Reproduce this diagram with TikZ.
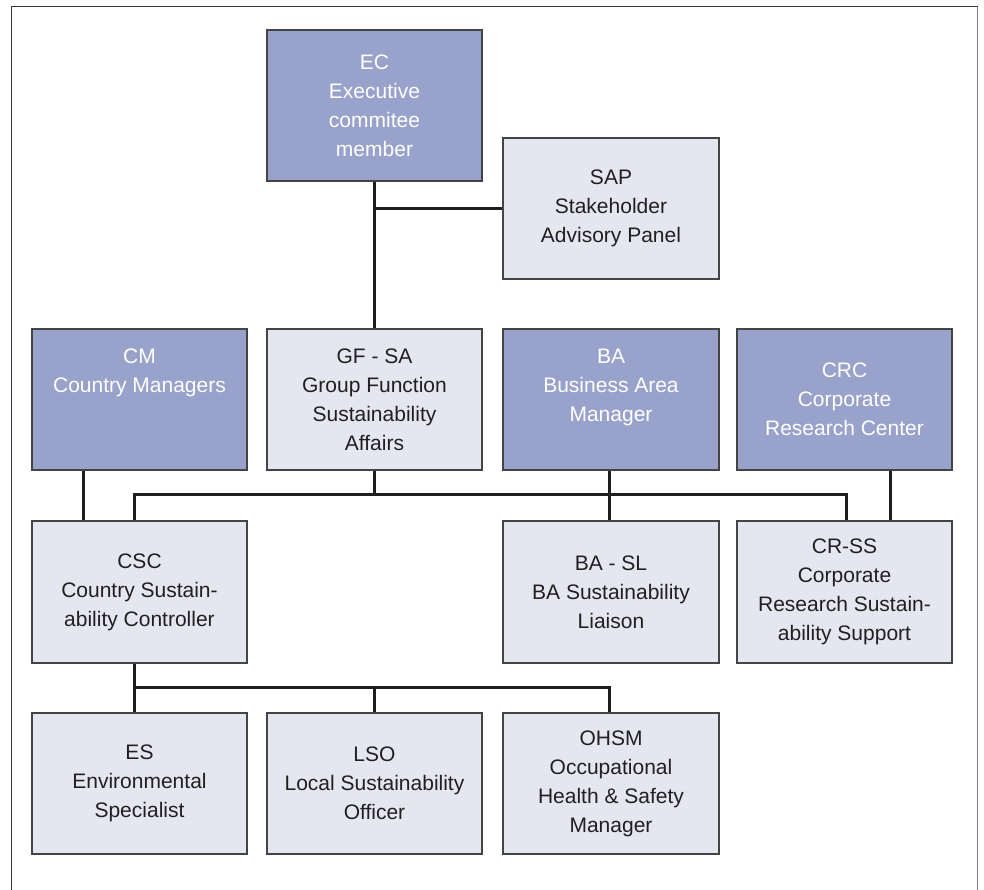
\documentclass[tikz,border=0pt]{standalone}
\usepackage{fontspec}
\setmainfont{Liberation Sans}
\definecolor{boxblue}{HTML}{98A2CB}
\definecolor{boxlight}{HTML}{E4E6F0}
\definecolor{boxline}{HTML}{444444}
\definecolor{textdark}{HTML}{231F20}
\definecolor{connline}{HTML}{1E1E1E}
\tikzset{
  unit/.style={draw=boxline, line width=1.2pt, minimum width=215pt, minimum height=141pt,
    align=center, inner sep=0pt, font=\fontsize{21}{29}\selectfont},
  lead/.style={unit, fill=boxblue, text=white},
  staff/.style={unit, fill=boxlight, text=textdark},
  conn/.style={draw=connline, line width=2.6pt},
  frame/.style={draw=#1, line width=1.3pt},
}
\begin{document}
\begin{tikzpicture}[x=1pt,y=-1pt]
\useasboundingbox (0,0) rectangle (984,890);
\fill[white] (0,0) rectangle (984,890);

% outer frame (open at the bottom)
\draw[frame=black!78] (11.7,900) -- (11.7,6.7) -- (977.7,6.7);
\draw[frame=black!50] (977.7,6.7) -- (977.7,900);

% top level
\node[lead, minimum height=151pt] (EC) at (374.5,105.5) {EC\\Executive\\commitee\\member};
\node[staff, minimum width=216pt] (SAP) at (611,208.5) {SAP\\Stakeholder\\Advisory Panel};

% second row
\node[lead]  (CM)  at (139.5,399.5) {CM\\Country Managers\\~\\~};
\node[staff] (GF)  at (374.5,399.5) {GF - SA\\Group Function\\Sustainability\\Affairs};
\node[lead, minimum width=216pt]  (BA)  at (611,399.5)   {BA\\Business Area\\Manager\\~};
\node[lead]  (CRC) at (844.5,399.5) {CRC\\Corporate\\Research Center};

% third row
\node[staff, minimum height=142pt] (CSC)  at (139.5,592) {CSC\\Country Sustain-\\ability Controller};
\node[staff, minimum height=142pt, minimum width=216pt] (BASL) at (611,592) {BA - SL\\BA Sustainability\\Liaison};
\node[staff, minimum height=142pt] (CRSS) at (844.5,592) {CR-SS\\Corporate\\Research Sustain-\\ability Support};

% fourth row
\node[staff] (ES)   at (139.5,783.5) {ES\\Environmental\\Specialist};
\node[staff] (LSO)  at (374.5,783.5) {LSO\\Local Sustainability\\Officer};
\node[staff, minimum width=216pt] (OHSM) at (611,783.5) {OHSM\\Occupational\\Health \& Safety\\Manager};

% bus levels
\coordinate (busA) at (0,494.3);
\coordinate (busB) at (0,687.7);

% executive line and advisory panel
\draw[conn] ([xshift=-0.2pt]EC.south) -- ([xshift=-0.2pt]GF.north);
\draw[conn] ([xshift=-0.2pt]EC.south |- SAP.west) -- (SAP.west);

% second to third row
\draw[conn] (GF.south) -- (GF.south |- busA);
\draw[conn] ([xshift=-5pt]CSC.north) |- ([xshift=2.2pt]CRSS.north |- busA) -- ([xshift=2.2pt]CRSS.north);
\draw[conn] ([xshift=-56.2pt]CM.south) -- ([xshift=-56.2pt]CSC.north);
\draw[conn] ([xshift=-1.7pt]BA.south) -- ([xshift=-1.7pt]BASL.north);
\draw[conn] ([xshift=46.2pt]CRC.south) -- ([xshift=46.2pt]CRSS.north);

% third to fourth row
\draw[conn] ([xshift=-4.8pt]CSC.south) -- ([xshift=-4.8pt]ES.north);
\draw[conn] ([xshift=-4.8pt]CSC.south |- busB) -| ([xshift=-1.7pt]OHSM.north);
\draw[conn] (LSO.north) -- (LSO.north |- busB);
\end{tikzpicture}
\end{document}
